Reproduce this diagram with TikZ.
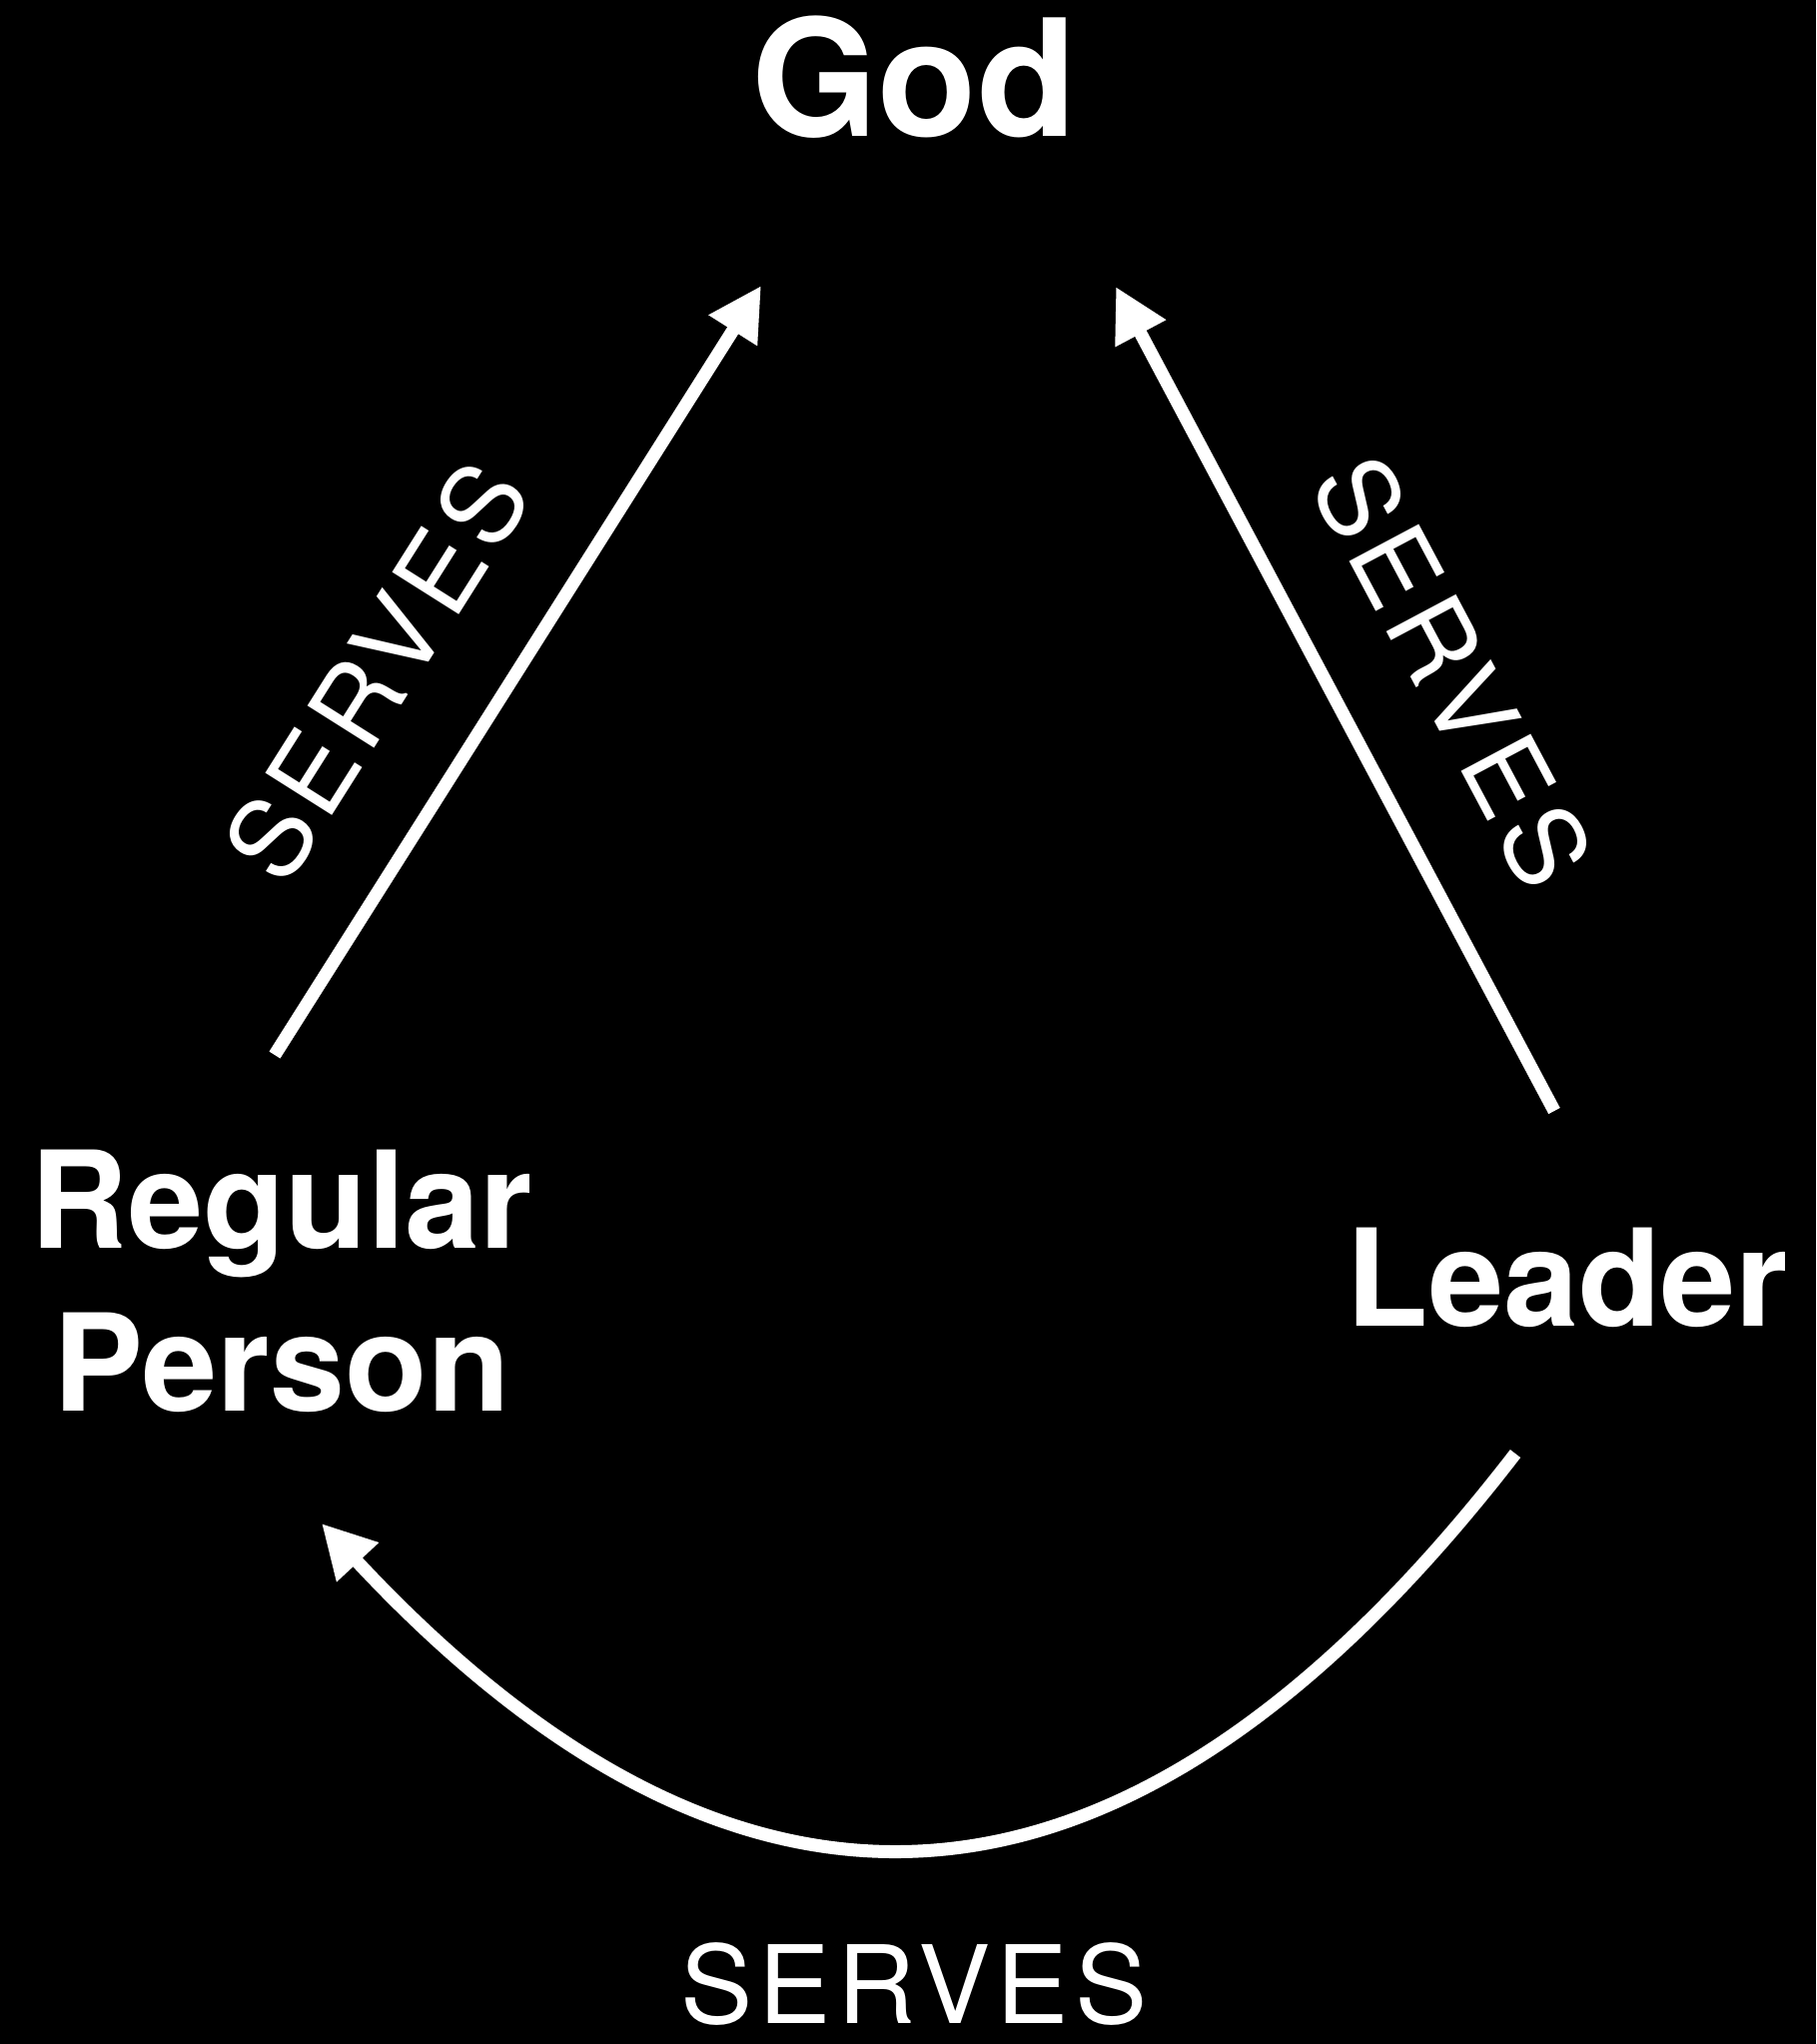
\documentclass[tikz,border=0pt]{standalone}
\usepackage{fontspec}
\setmainfont{TeX Gyre Heros}
\newfontfamily\servesfont[LetterSpace=6]{TeX Gyre Heros}
\usetikzlibrary{arrows.meta}
\begin{document}
\begin{tikzpicture}[x=0.01cm,y=-0.01cm,
  conn/.style={draw=white, line width=0.13cm, -{Triangle[length=0.53cm,width=0.54cm]}},
  title/.style={text=white, font=\bfseries\fontsize{46.3}{55}\selectfont, inner sep=0},
  who/.style={text=white, font=\bfseries\fontsize{38.4}{46.3}\selectfont, inner sep=0, align=center},
  verb/.style={text=white, font=\servesfont\fontsize{30.8}{37}\selectfont, inner sep=0}]
\fill[black] (0,0) rectangle (1818,2046);
\useasboundingbox (0,0) rectangle (1818,2046);

\node[title, anchor=base] (god) at (915,137) {God};
\node[who, anchor=base] (regular) at (282,1412) {Regular\\Person};
\node[who, anchor=base] (leader) at (1569,1327) {Leader};

\coordinate (lt) at (275,1056);
\coordinate (lh) at (762,286);
\coordinate (rt) at (1556,1112);
\coordinate (rh) at (1117,287);
\coordinate (bt) at (1517,1455);
\coordinate (bh) at (322,1525);

\draw[conn] (lt) -- (lh);
\draw[conn] (rt) -- (rh);
\draw[conn] (bt) .. controls (1135,1950) and (748,1982) .. (bh);

\node[verb, rotate=57.7] (sl) at (377,672) {SERVES};
\node[verb, rotate=-62] (sr) at (1454,672) {SERVES};
\node[verb, anchor=base] (sb) at (915,2025) {SERVES};
\end{tikzpicture}
\end{document}
